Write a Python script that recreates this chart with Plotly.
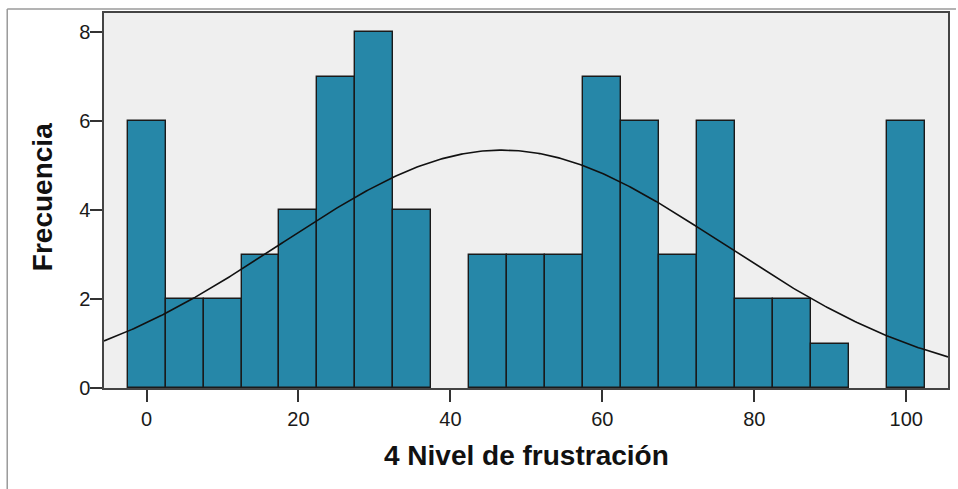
import numpy as np
import plotly.graph_objects as go

# Histogram of "4 Nivel de frustración" (bins of width 5, centred on multiples of 5)
bin_centers = [0, 5, 10, 15, 20, 25, 30, 35, 40, 45, 50, 55, 60, 65, 70, 75, 80, 85, 90, 95, 100]
frequencies = [6, 2, 2, 3, 4, 7, 8, 4, 0, 3, 3, 3, 7, 6, 3, 6, 2, 2, 1, 0, 6]
bin_width = 5

x_ticks = [0, 20, 40, 60, 80, 100]
y_ticks = [0, 2, 4, 6, 8]

x_range = [-5.6, 105.5]
y_range = [0, 8.43]

# Normal curve scaled to the histogram counts
centers = np.array(bin_centers, dtype=float)
counts = np.array(frequencies, dtype=float)
n = counts.sum()
mean = (centers * counts).sum() / n
sd = np.sqrt(((centers - mean) ** 2 * counts).sum() / (n - 1))
xc = np.linspace(x_range[0], x_range[1], 400)
yc = n * bin_width / (sd * np.sqrt(2 * np.pi)) * np.exp(-0.5 * ((xc - mean) / sd) ** 2)

bar_color = "#2687a8"
font = "Liberation Sans, Arial, sans-serif"

# empty bins get no outline
edge_widths = [1.4 if f > 0 else 0 for f in frequencies]

fig = go.Figure()
fig.add_trace(go.Bar(
    x=bin_centers, y=frequencies, width=bin_width,
    marker=dict(color=bar_color, line=dict(color="#1a1a1a", width=edge_widths)),
    showlegend=False, hoverinfo="x+y",
))
fig.add_trace(go.Scatter(
    x=xc, y=yc, mode="lines",
    line=dict(color="#111111", width=1.6),
    showlegend=False, hoverinfo="skip",
))

W, H = 958, 489
ml, mr, mt, mb = 104, 8, 13, 101
pw, ph = W - ml - mr, H - mt - mb

def px_x(p):
    return (p - ml) / pw

def px_y(p):
    return (H - mb - p) / ph

axis_style = dict(
    ticks="outside", ticklen=12, tickwidth=1.5, tickcolor="#333333",
    showline=True, linecolor="#444444", linewidth=1.5, mirror=True,
    showgrid=False, zeroline=False,
    tickfont=dict(size=20, color="#1a1a1a", family=font),
)

fig.update_layout(
    width=W, height=H,
    margin=dict(l=ml, r=mr, t=mt, b=mb),
    paper_bgcolor="white",
    plot_bgcolor="#efefef",
    bargap=0,
    font=dict(family=font, size=20, color="#1a1a1a"),
    xaxis=dict(range=x_range, tickvals=x_ticks, **axis_style),
    yaxis=dict(range=y_range, tickvals=y_ticks, ticklabelstandoff=-4, **axis_style),
    annotations=[
        dict(text="<b>4 Nivel de frustración</b>", xref="paper", yref="paper",
             x=px_x(527), y=px_y(455), xanchor="center", yanchor="middle",
             showarrow=False, font=dict(size=28, color="#111111", family=font)),
        dict(text="<b>Frecuencia</b>", xref="paper", yref="paper",
             x=px_x(42), y=px_y(197), xanchor="center", yanchor="middle",
             showarrow=False, textangle=-90,
             font=dict(size=28, color="#111111", family=font)),
    ],
    shapes=[
        # outer chart frame
        dict(type="line", xref="paper", yref="paper",
             x0=px_x(7), x1=px_x(7), y0=px_y(9), y1=px_y(489),
             line=dict(color="#9a9a9a", width=1.5)),
        dict(type="line", xref="paper", yref="paper",
             x0=px_x(7), x1=px_x(958), y0=px_y(9), y1=px_y(9),
             line=dict(color="#9a9a9a", width=1.5)),
    ],
)

fig.write_html("out.html")
